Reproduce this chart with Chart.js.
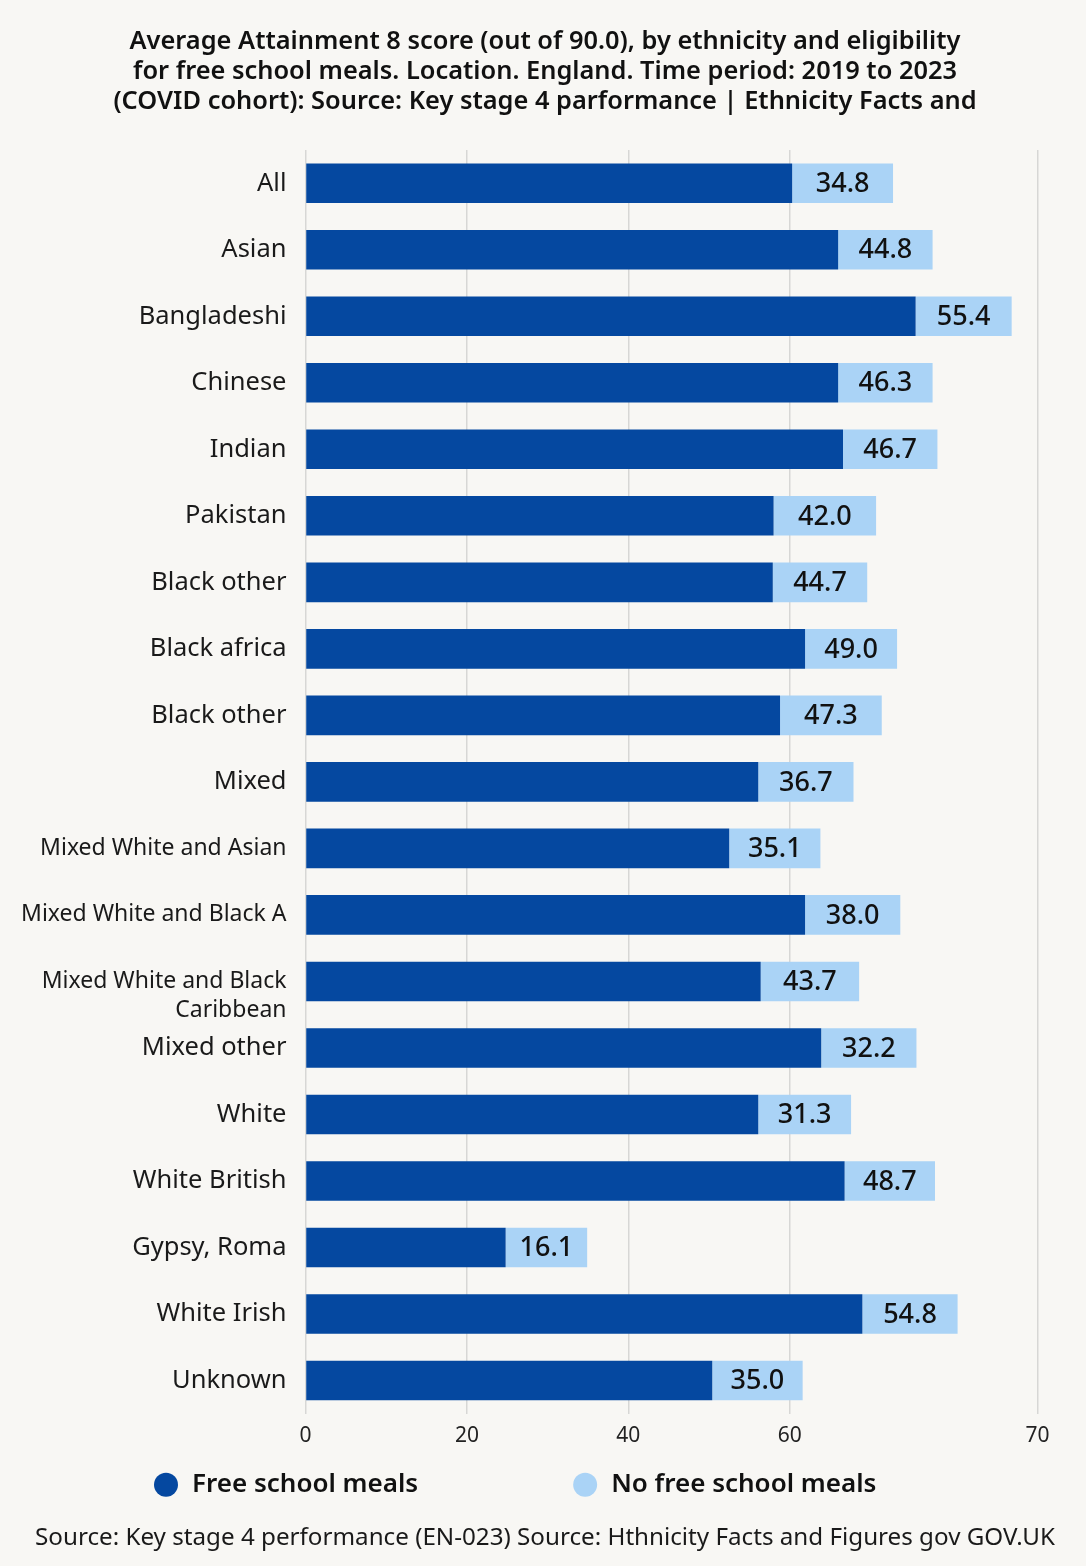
<!DOCTYPE html>
<html>
<head>
<meta charset="utf-8">
<script src="https://cdn.jsdelivr.net/npm/chart.js@4.4.1/dist/chart.umd.min.js"></script>
<style>
  html, body { margin: 0; padding: 0; background: #ffffff; }
  #wrap { position: relative; width: 1086px; height: 1566px; background: #f8f7f4; overflow: hidden; }
  canvas { display: block; }
</style>
</head>
<body>
<div id="wrap"><canvas id="chart" width="1086" height="1566"></canvas></div>
<script>
// ---- Data ----
const categories = [
  'All', 'Asian', 'Bangladeshi', 'Chinese', 'Indian', 'Pakistan',
  'Black other', 'Black africa', 'Black other', 'Mixed',
  'Mixed White and Asian', 'Mixed White and Black A',
  ['', 'Mixed White and Black', 'Caribbean'],
  'Mixed other', 'White', 'White British', 'Gypsy, Roma', 'White Irish', 'Unknown'
];
const freeSchoolMeals = [60.3, 66.0, 75.6, 66.0, 66.6, 58.0, 57.9, 61.9, 58.8, 56.1, 52.5, 61.9, 56.4, 63.9, 56.1, 66.8, 24.8, 69.0, 50.4];
const noFreeSchoolMeals = [12.5, 11.7, 11.9, 11.7, 11.7, 12.7, 11.7, 11.4, 12.6, 11.8, 11.3, 11.8, 12.2, 11.8, 11.5, 11.2, 10.1, 11.8, 11.2];
const valueLabels = ['34.8', '44.8', '55.4', '46.3', '46.7', '42.0', '44.7', '49.0', '47.3', '36.7', '35.1', '38.0', '43.7', '32.2', '31.3', '48.7', '16.1', '54.8', '35.0'];
const seriesNames = ['Free school meals', 'No free school meals'];
const xTickValues = [0, 20, 40, 60];
const xTickLabels = ['0', '20', '40', '60', '70'];
const X_MAX = 90.7;

const titleLines = [
  'Average Attainment 8 score (out of 90.0), by ethnicity and eligibility',
  'for free school meals. Location. England. Time period: 2019 to 2023',
  '(COVID cohort): Source: Key stage 4 parformance | Ethnicity Facts and'
];
const footerText = 'Source: Key stage 4 performance (EN-023) Source: Hthnicity Facts and Figures gov GOV.UK';

const DARK = '#0548a0';
const LIGHT = '#aad3f6';
const FONT = '"Noto Sans", "Open Sans", sans-serif';

Chart.defaults.font.family = FONT;
Chart.defaults.color = '#1a1a1a';

const valueLabelPlugin = {
  id: 'valueLabels',
  afterDatasetsDraw(chart) {
    const ctx = chart.ctx;
    const meta = chart.getDatasetMeta(1);
    ctx.save();
    ctx.font = '500 27px ' + FONT;
    ctx.fillStyle = '#111111';
    ctx.textAlign = 'center';
    ctx.textBaseline = 'middle';
    meta.data.forEach((bar, i) => {
      const cx = (bar.x + bar.base) / 2;
      ctx.fillText(valueLabels[i], cx, bar.y + 1);
    });
    ctx.restore();
  }
};

const legendPlugin = {
  id: 'customLegend',
  afterDraw(chart) {
    const ctx = chart.ctx;
    const y = chart.chartArea.bottom + 71;
    ctx.save();
    ctx.font = '600 26px ' + FONT;
    ctx.textBaseline = 'middle';
    ctx.textAlign = 'left';
    let x = 154;
    chart.data.datasets.forEach((ds) => {
      ctx.fillStyle = ds.backgroundColor;
      ctx.beginPath();
      ctx.arc(x + 12, y, 12, 0, Math.PI * 2);
      ctx.fill();
      ctx.fillStyle = '#111111';
      ctx.fillText(ds.label, x + 38, y);
      x += 38 + ctx.measureText(ds.label).width + 155;
    });
    ctx.restore();
  }
};

new Chart(document.getElementById('chart'), {
  type: 'bar',
  data: {
    labels: categories,
    datasets: [
      { label: seriesNames[0], data: freeSchoolMeals, backgroundColor: DARK, borderWidth: 0, barPercentage: 0.595, categoryPercentage: 1.0 },
      { label: seriesNames[1], data: noFreeSchoolMeals, backgroundColor: LIGHT, borderWidth: 0, barPercentage: 0.595, categoryPercentage: 1.0 }
    ]
  },
  options: {
    indexAxis: 'y',
    responsive: false,
    animation: false,
    layout: { padding: { left: 4, right: 0, top: 0, bottom: 0 } },
    plugins: {
      legend: { display: false },
      tooltip: { enabled: false },
      title: {
        display: true,
        text: titleLines,
        color: '#111111',
        font: { size: 25.4, weight: '600', lineHeight: '30px' },
        padding: { top: 27, bottom: 33 }
      },
      subtitle: {
        display: true,
        position: 'bottom',
        text: footerText,
        color: '#1a1a1a',
        font: { size: 24.2, weight: '400', lineHeight: 1.2 },
        padding: { top: 64.4, bottom: 13.6 }
      }
    },
    scales: {
      x: {
        stacked: true,
        min: 0,
        max: X_MAX,
        grid: { color: '#d7d7d5', lineWidth: 1.5, drawTicks: false },
        border: { display: false },
        afterBuildTicks: (scale) => {
          scale.ticks = xTickValues.concat([X_MAX]).map(v => ({ value: v }));
        },
        ticks: {
          padding: 10,
          color: '#222222',
          font: { size: 21 },
          maxRotation: 0,
          callback: (v, i) => xTickLabels[i]
        }
      },
      y: {
        stacked: true,
        grid: { display: false, drawTicks: false },
        border: { display: false },
        afterFit: (scale) => { scale.width = 301.5; },
        ticks: {
          padding: 19,
          color: '#1a1a1a',
          autoSkip: false,
          font: (ctx) => {
            const lab = categories[ctx.index];
            const long = Array.isArray(lab) || (typeof lab === 'string' && lab.length > 18);
            return { size: long ? 23 : 25.5, lineHeight: 1.26 };
          }
        }
      },
      yRight: {
        type: 'category',
        position: 'right',
        display: true,
        grid: { display: false, drawTicks: false },
        border: { display: false },
        ticks: { display: false },
        afterFit: (scale) => { scale.width = 48.5; }
      }
    }
  },
  plugins: [valueLabelPlugin, legendPlugin]
});
</script>
</body>
</html>
